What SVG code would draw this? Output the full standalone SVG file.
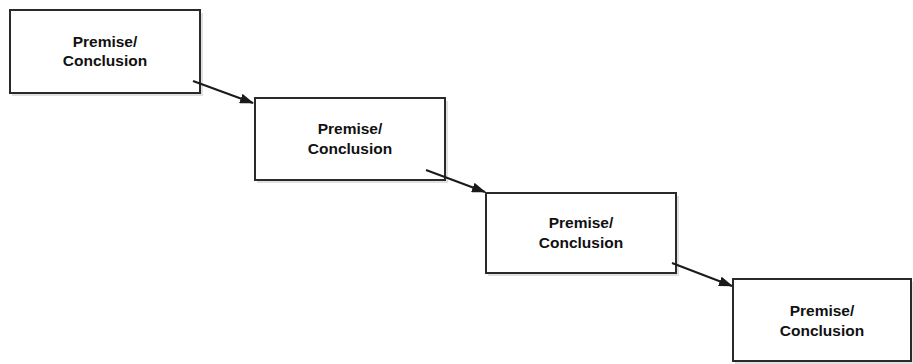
<svg xmlns="http://www.w3.org/2000/svg" width="913" height="364" viewBox="0 0 913 364">
<style>
.box{fill:#fff;stroke:#2a2a2a;stroke-width:2}
.sh{fill:#000;opacity:0.12}
.t{font-family:"Liberation Sans",Arial,sans-serif;font-weight:bold;font-size:15.5px;fill:#111;text-anchor:middle}
.c{stroke:#1a1a1a;stroke-width:2;fill:none}
</style>
<defs>
<marker id="ah" markerWidth="14" markerHeight="10" refX="13" refY="5" orient="auto" markerUnits="userSpaceOnUse" viewBox="0 0 14 10">
<path d="M0,0 L14,5 L0,10 Z" fill="#1a1a1a"/>
</marker>
</defs>
<rect width="913" height="364" fill="#fff"/>
<g id="node1">
<rect class="sh" x="12" y="13" width="191" height="83"/>
<rect class="box" x="10" y="10" width="190" height="83"/>
<text class="t" x="105" y="47">Premise/</text>
<text class="t" x="105" y="66">Conclusion</text>
</g>
<g id="node2">
<rect class="sh" x="257" y="101" width="191" height="82"/>
<rect class="box" x="255" y="98" width="190" height="82"/>
<text class="t" x="350" y="134">Premise/</text>
<text class="t" x="350" y="154">Conclusion</text>
</g>
<g id="node3">
<rect class="sh" x="488" y="196" width="191" height="80"/>
<rect class="box" x="486" y="193" width="190" height="80"/>
<text class="t" x="581" y="228">Premise/</text>
<text class="t" x="581" y="248">Conclusion</text>
</g>
<g id="node4">
<rect class="sh" x="735" y="282" width="180" height="82"/>
<rect class="box" x="733" y="279" width="178" height="82"/>
<text class="t" x="822" y="316">Premise/</text>
<text class="t" x="822" y="336">Conclusion</text>
</g>
<g id="connectors">
<line class="c" x1="193" y1="81" x2="253" y2="103" marker-end="url(#ah)"/>
<line class="c" x1="426" y1="170" x2="485" y2="192" marker-end="url(#ah)"/>
<line class="c" x1="672" y1="263" x2="732" y2="286" marker-end="url(#ah)"/>
</g>
</svg>
